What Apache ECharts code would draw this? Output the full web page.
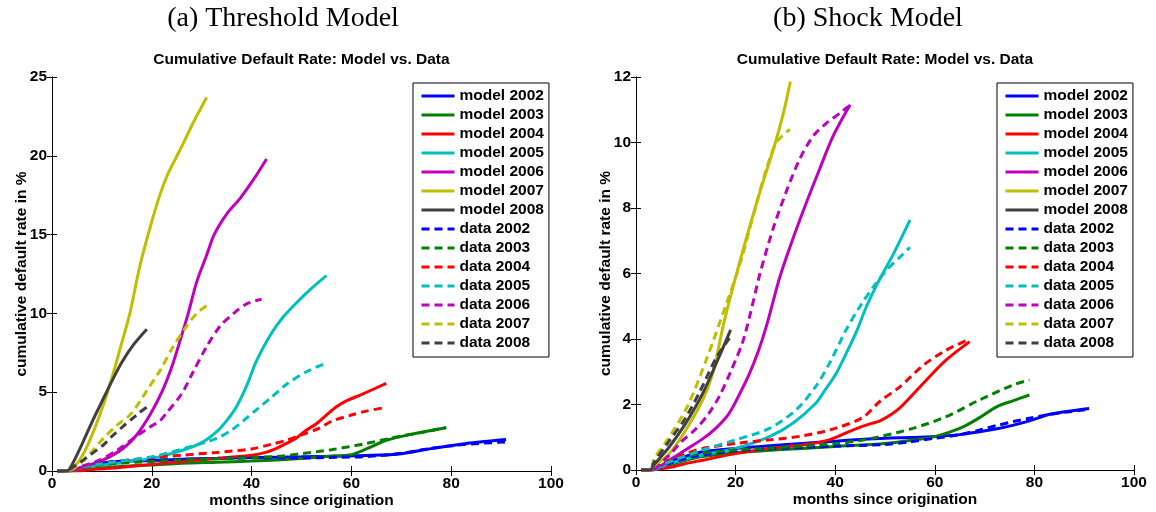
<!DOCTYPE html>
<html>
<head>
<meta charset="utf-8">
<script src="https://cdn.jsdelivr.net/npm/echarts@6/dist/echarts.min.js"></script>
<style>
  html, body { margin: 0; padding: 0; background: #fff; }
  #chart { width: 1156px; height: 512px; }
</style>
</head>
<body>
<div id="chart"></div>
<script>
// Vintage years and their line colours
const years = ['2002', '2003', '2004', '2005', '2006', '2007', '2008'];
const yearColors = ['#0000ff', '#008000', '#ff0000', '#00bfbf', '#bf00bf', '#bfbf00', '#404040'];

// Panel titles and axis texts
const panelTitles = ['(a) Threshold Model', '(b) Shock Model'];
const plotTitle = 'Cumulative Default Rate: Model vs. Data';
const xName = 'months since origination';
const yName = 'cumulative default rate in %';
const xTicks = [0, 100, 20];
const thrYTicks = [0, 25, 5];
const shkYTicks = [0, 12, 2];

// Threshold model: [month, cumulative default rate %]
const thrModel2002 = [[1,0],[3,0],[5,0.15],[8,0.4],[13,0.6],[20,0.67],[26,0.74],[33,0.8],[40,0.85],[50,0.9],[57,0.94],[63,0.98],[70,1.1],[76,1.42],[83,1.75],[91,2.0]];
const thrModel2003 = [[1,0],[3,0],[5,0.05],[9,0.18],[13,0.27],[20,0.38],[26,0.49],[33,0.56],[40,0.63],[46,0.72],[52,0.84],[57,0.96],[60,1.04],[63,1.4],[67,1.95],[73,2.39],[79,2.75]];
const thrModel2004 = [[1,0],[3,0],[6,0.02],[9,0.12],[13,0.21],[20,0.42],[26,0.6],[33,0.8],[40,1.0],[43,1.2],[45,1.44],[47,1.75],[49,2.1],[51,2.6],[53,3.0],[55,3.55],[57,4.08],[59,4.45],[62,4.85],[67,5.56]];
const thrModel2005 = [[1,0],[3,0],[6,0.2],[10,0.38],[13,0.49],[20,0.8],[26,1.3],[30,1.8],[33,2.5],[35,3.2],[37,4.1],[39,5.4],[41,7.0],[43.7,8.6],[46.4,9.8],[49.7,10.9],[52.4,11.7],[55,12.4]];
const thrModel2006 = [[1,0],[3,0],[6.3,0.27],[10.3,0.7],[14.3,1.44],[17,2.3],[19.7,3.6],[22,5.0],[24,6.6],[25.5,8.1],[27.3,10],[29,12],[31,13.7],[32.5,15],[35,16.3],[37.7,17.3],[40.4,18.5],[43,19.8]];
const thrModel2007 = [[1,0],[3,0],[4.3,0.2],[6.3,1.1],[8.3,2.5],[10.3,4.2],[12,5.9],[13.6,7.7],[15.6,10],[17.6,13],[19.7,15.5],[21.7,17.6],[23.3,18.9],[25.7,20.4],[28.3,22.1],[31,23.7]];
const thrModel2008 = [[1,0],[3,0],[4,0.4],[6.3,1.9],[8.3,3.3],[10.3,4.6],[12,5.7],[14,6.9],[16.3,8.0],[19,9.0]];

// Threshold panel, observed data
const thrData2002 = [[1,0],[3,0],[5,0.15],[8,0.42],[13,0.6],[20,0.68],[26,0.74],[33,0.8],[40,0.84],[50,0.83],[57,0.87],[63,0.92],[70,1.12],[76,1.44],[83,1.69],[91,1.85]];
const thrData2003 = [[1,0],[3,0],[6,0.2],[9,0.35],[13,0.49],[20,0.6],[26,0.7],[33,0.78],[40,0.85],[46,0.95],[50,1.1],[56,1.35],[63,1.75],[70,2.22],[75,2.5],[79,2.77]];
const thrData2004 = [[1,0],[3,0],[5,0.15],[8,0.38],[13,0.6],[20,0.85],[26,1.0],[33,1.18],[40,1.4],[44,1.7],[47,1.95],[50,2.3],[53.5,2.7],[56,3.15],[60,3.55],[63,3.8],[67,4.04]];
const thrData2005 = [[1,0],[3,0],[6,0.27],[10,0.45],[13,0.6],[20,0.9],[27.7,1.54],[33,2.07],[36,2.6],[38.4,3.2],[41,3.9],[43.7,4.6],[47,5.5],[51,6.3],[55,6.85]];
const thrData2006 = [[1,0],[3,0],[6,0.3],[9.6,0.7],[13,1.3],[16.3,2.07],[19.7,2.8],[21.7,3.2],[23,3.7],[26,4.9],[28.3,6.3],[31,7.9],[33.7,9.2],[36.4,10],[39,10.6],[42,10.9]];
const thrData2007 = [[1,0],[3,0],[5,0.3],[7.6,1.1],[10.3,2.07],[13,2.9],[15.6,3.55],[17.6,4.4],[19,5.1],[21.7,6.4],[24.3,7.9],[27,9.2],[29,10],[31,10.5]];
const thrData2008 = [[1,0],[3,0],[4,0.2],[6.3,0.7],[8,1.1],[10.3,1.65],[12,2.2],[14.3,2.85],[16,3.3],[17.5,3.7],[19,4.05]];

// Shock model: [month, cumulative default rate %]
const shkModel2002 = [[1,0],[3,0],[6.7,0.25],[10,0.42],[13.4,0.56],[20,0.66],[27,0.74],[33.4,0.81],[40,0.88],[45,0.93],[50,0.97],[55,0.99],[60,1.02],[65,1.08],[69,1.17],[72.5,1.26],[75.8,1.37],[79,1.5],[82.5,1.68],[86,1.78],[91,1.88]];
const shkModel2003 = [[1,0],[3,0],[6.7,0.15],[10,0.3],[13.4,0.41],[20,0.53],[27,0.6],[33.4,0.66],[40,0.72],[50,0.81],[55,0.9],[60,1.02],[65.7,1.32],[69,1.6],[72.4,1.93],[75.8,2.12],[79,2.29]];
const shkModel2004 = [[1,0],[3,0],[6.7,0.08],[10,0.2],[13.4,0.3],[20,0.5],[26.8,0.66],[33.4,0.76],[38.8,0.92],[43.5,1.22],[46.8,1.4],[49,1.5],[53,1.9],[57.7,2.65],[62.3,3.36],[67,3.92]];
const shkModel2005 = [[1,0],[3,0],[6.7,0.2],[13.4,0.46],[20,0.66],[26.8,1.02],[31.5,1.43],[36.1,2.04],[38,2.45],[40.2,2.95],[42.5,3.65],[44.2,4.2],[46.3,5.0],[48.5,5.7],[51.7,6.6],[55,7.63]];
const shkModel2006 = [[1,0],[3,0],[6.7,0.3],[10,0.62],[13.4,0.95],[16,1.27],[18.7,1.73],[20.9,2.35],[22.8,2.95],[24.5,3.6],[26.2,4.4],[28.9,5.9],[31.6,7.1],[34.3,8.2],[36.9,9.2],[39.6,10.2],[43,11.15]];
const shkModel2007 = [[1,0],[3,0],[3.5,0.1],[6.7,0.5],[10,1.22],[13.4,2.14],[15.5,3.0],[17.5,4.4],[19.5,5.6],[22.2,7.1],[24.9,8.5],[27.6,9.8],[29.6,10.9],[31,11.86]];
const shkModel2008 = [[1,0],[3,0],[3.3,0.1],[6.7,0.71],[10,1.43],[13.4,2.34],[16.7,3.46],[19,4.28]];

// Shock panel, observed data
const shkData2002 = [[1,0],[3,0],[6.7,0.2],[10,0.35],[13.4,0.46],[20,0.59],[27,0.65],[33.4,0.69],[40,0.73],[50,0.78],[55,0.86],[60,0.97],[65,1.08],[69,1.22],[72.5,1.36],[75.8,1.48],[79,1.58],[82.5,1.68],[86,1.76],[91,1.85]];
const shkData2003 = [[1,0],[3,0],[6.7,0.3],[10,0.42],[13.4,0.51],[20,0.61],[27,0.67],[33.4,0.73],[40,0.8],[45,0.9],[49,1.02],[55.6,1.27],[62.3,1.63],[69,2.14],[75.8,2.6],[79,2.75]];
const shkData2004 = [[1,0],[3,0],[6.7,0.3],[10,0.5],[13.4,0.66],[20,0.81],[26.8,0.92],[33.4,1.04],[40,1.27],[45.5,1.6],[49,2.1],[53,2.54],[57.7,3.2],[62.3,3.66],[67,4.0]];
const shkData2005 = [[1,0],[3,0],[6.7,0.25],[13.4,0.61],[20,0.92],[26.8,1.27],[32.1,1.83],[36.1,2.55],[39,3.3],[42.2,4.28],[45,5.0],[47.7,5.6],[50.3,6.1],[53,6.5],[55,6.8]];
const shkData2006 = [[1,0],[3,0],[6.7,0.46],[9,0.85],[12,1.25],[14.5,1.7],[16.7,2.24],[19,3.0],[21.4,3.9],[23,4.8],[24.9,6.0],[27.6,7.4],[30.3,8.55],[32.9,9.5],[35.6,10.2],[38.3,10.6],[41,10.9],[42.6,11.1]];
const shkData2007 = [[1,0],[3,0],[3.5,0.3],[6.2,0.9],[10.2,1.9],[14.2,3.4],[18.2,5.1],[20.9,6.3],[23.6,7.8],[26.2,9.2],[28.2,10.0],[30.9,10.4]];
const shkData2008 = [[1,0],[3,0],[3.5,0.2],[6.5,0.85],[10,1.6],[13,2.45],[16.2,3.45],[19,4.07]];

const thrModel = [thrModel2002, thrModel2003, thrModel2004, thrModel2005, thrModel2006, thrModel2007, thrModel2008];
const thrData = [thrData2002, thrData2003, thrData2004, thrData2005, thrData2006, thrData2007, thrData2008];
const shkModel = [shkModel2002, shkModel2003, shkModel2004, shkModel2005, shkModel2006, shkModel2007, shkModel2008];
const shkData = [shkData2002, shkData2003, shkData2004, shkData2005, shkData2006, shkData2007, shkData2008];

const SANS = '"Liberation Sans", Arial, Helvetica, sans-serif';
const SERIF = '"Liberation Serif", "Times New Roman", serif';
const FS = 15.5;

const panels = [
  { left: 52, top: 77, width: 499, height: 394, yTicks: thrYTicks, model: thrModel, data: thrData, legendLeft: 413, titleX: 283 },
  { left: 636, top: 77, width: 498, height: 393, yTicks: shkYTicks, model: shkModel, data: shkData, legendLeft: 997, titleX: 868 }
];

const tickLabel = { color: '#000', fontWeight: 'bold', fontSize: FS, fontFamily: SANS };
const nameStyle = { color: '#000', fontWeight: 'bold', fontSize: FS, fontFamily: SANS };
const axisLine = { show: true, lineStyle: { color: '#000', width: 1 } };
const axisTick = { show: true, inside: true, length: 5, lineStyle: { color: '#000', width: 1 } };

const grid = [], xAxis = [], yAxis = [], series = [], legend = [], graphic = [];
const names = years.map(y => 'model ' + y).concat(years.map(y => 'data ' + y));

panels.forEach((p, gi) => {
  grid.push({ left: p.left, top: p.top, width: p.width, height: p.height, containLabel: false, outerBoundsMode: 'none' });
  const xBase = { type: 'value', gridIndex: gi, min: xTicks[0], max: xTicks[1], interval: xTicks[2],
    axisLine, axisTick, splitLine: { show: false } };
  xAxis.push(Object.assign({}, xBase, { position: 'bottom',
    axisLabel: Object.assign({ margin: 5 }, tickLabel),
    name: xName, nameLocation: 'middle', nameGap: 22, nameMoveOverlap: false, nameTextStyle: nameStyle }));
  xAxis.push(Object.assign({}, xBase, { position: 'top', axisLabel: { show: false } }));
  const yBase = { type: 'value', gridIndex: gi, min: p.yTicks[0], max: p.yTicks[1], interval: p.yTicks[2],
    axisLine, axisTick, splitLine: { show: false } };
  yAxis.push(Object.assign({}, yBase, { position: 'left',
    axisLabel: Object.assign({ margin: 5 }, tickLabel),
    name: yName, nameLocation: 'middle', nameGap: 22, nameMoveOverlap: false, nameTextStyle: nameStyle }));
  yAxis.push(Object.assign({}, yBase, { position: 'right', axisLabel: { show: false } }));

  const addSeries = (arr, prefix, dashed) => {
    arr.forEach((d, i) => {
      series.push({
        type: 'line', name: prefix + years[i], xAxisIndex: gi * 2, yAxisIndex: gi * 2,
        data: d, symbol: 'none', showSymbol: false, smooth: 0.3, clip: true,
        color: yearColors[i],
        lineStyle: { color: yearColors[i], width: 3, type: dashed ? [8, 5] : 'solid' },
        emphasis: { disabled: true }, animation: false
      });
    });
  };
  addSeries(p.model, 'model ', false);
  addSeries(p.data, 'data ', true);

  legend.push({
    orient: 'vertical', left: p.legendLeft, top: 83, data: names,
    backgroundColor: '#fff', borderColor: '#000', borderWidth: 1, borderRadius: 0,
    padding: [5, 5, 6, 7], itemWidth: 33, itemHeight: 14, itemGap: 3,
    selectedMode: false,
    itemStyle: { color: 'rgba(0,0,0,0)', borderColor: 'rgba(0,0,0,0)', borderWidth: 0 },
    lineStyle: { width: 3 },
    textStyle: { color: '#000', fontWeight: 'bold', fontSize: FS, fontFamily: SANS }
  });

  graphic.push({ type: 'text', x: p.titleX, y: 19, silent: true,
    style: { text: panelTitles[gi], font: '28px ' + SERIF, fill: '#000',
      textAlign: 'center', textVerticalAlign: 'middle', align: 'center', verticalAlign: 'middle' } });
  graphic.push({ type: 'text', x: p.left + p.width / 2, y: 60, silent: true,
    style: { text: plotTitle, font: 'bold ' + FS + 'px ' + SANS, fill: '#000',
      textAlign: 'center', textVerticalAlign: 'middle', align: 'center', verticalAlign: 'middle' } });
});

const chart = echarts.init(document.getElementById('chart'), null, { renderer: 'canvas' });
chart.setOption({
  animation: false,
  backgroundColor: '#fff',
  grid, xAxis, yAxis, series, legend, graphic
});
</script>
</body>
</html>
